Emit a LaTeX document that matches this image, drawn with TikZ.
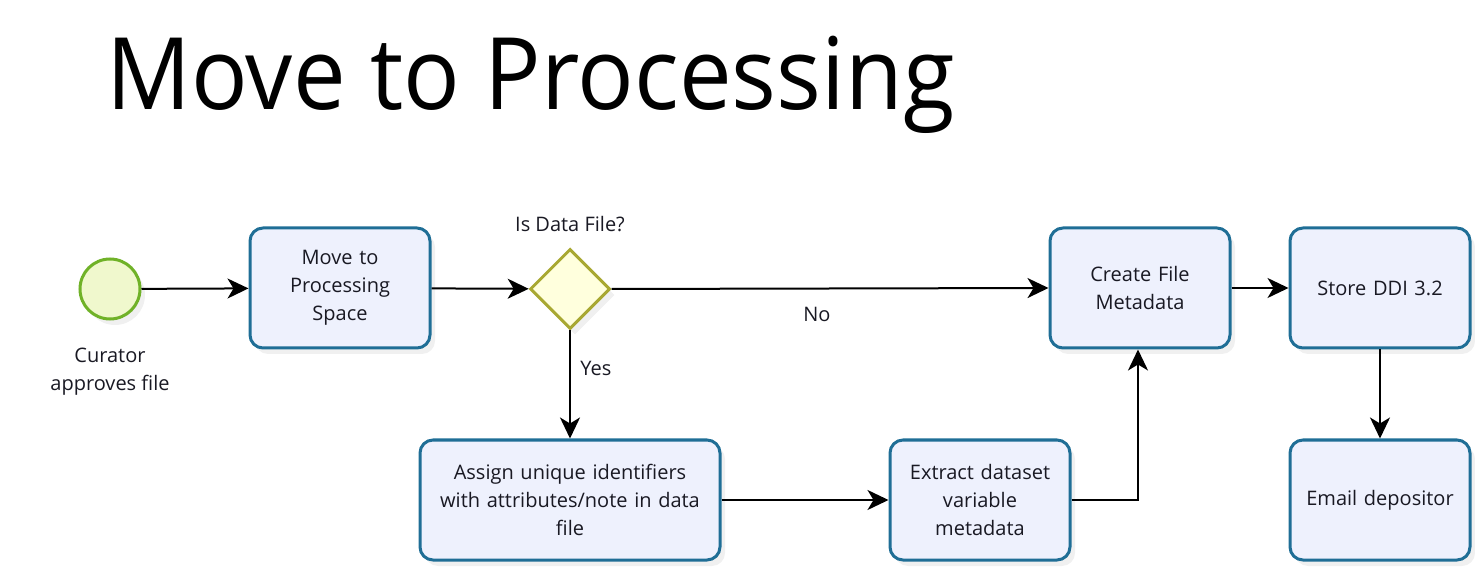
\documentclass[tikz,border=0pt]{standalone}
\usepackage{fontspec}
\setmainfont{Open Sans}
\usetikzlibrary{arrows.meta,shapes.geometric,positioning,shadows}
\definecolor{taskline}{RGB}{31,110,150}
\definecolor{taskfill}{RGB}{238,241,253}
\definecolor{startline}{RGB}{112,178,40}
\definecolor{startfill}{RGB}{240,248,205}
\definecolor{gateline}{RGB}{168,168,50}
\definecolor{gatefill}{RGB}{255,255,221}
\definecolor{labeltext}{RGB}{25,25,35}
\tikzset{
	boxfont/.style={font=\fontsize{20}{28}\selectfont,text=labeltext},
	activity/.style={draw=taskline,line width=3pt,fill=taskfill,rounded corners=13pt,
		minimum width=180pt,minimum height=120pt,text width=170pt,align=center,boxfont,
		drop shadow={shadow xshift=5pt,shadow yshift=-6pt,opacity=0.12}},
	startevent/.style={circle,draw=startline,line width=3pt,fill=startfill,minimum size=60pt,inner sep=0pt,
		drop shadow={shadow xshift=5pt,shadow yshift=-6pt,opacity=0.12}},
	gateway/.style={diamond,aspect=1,draw=gateline,line width=3pt,fill=gatefill,minimum size=80pt,inner sep=0pt,
		drop shadow={shadow xshift=5pt,shadow yshift=-6pt,opacity=0.12}},
	flow/.style={line width=2pt,-{Stealth[length=21pt,width=20pt,inset=6pt]}},
}
\begin{document}
\begin{tikzpicture}[x=1pt,y=1pt]
	\useasboundingbox (0,0) rectangle (1475,576);
	% title
	\node[anchor=base west,inner sep=0pt,xscale=0.94,font=\fontsize{100}{110}\selectfont] (title) at (106,466) {Move to Processing};
	% top row
	\node[startevent,label={[boxfont,align=center,label distance=24pt]below:Curator\\approves file}] (curator) at (110,287) {};
	\node[activity] (movespace) at (340,288) {Move to\\Processing\\Space};
	\node[gateway,label={[boxfont,label distance=12pt]above:Is Data File?}] (isdata) at (570,287) {};
	\node[activity] (createmeta) at (1140,288) {Create File\\Metadata};
	\node[activity] (storeddi) at (1380,288) {Store DDI 3.2};
	% bottom row
	\node[activity,minimum width=300pt,text width=290pt] (assignid) at (570,76) {Assign unique identifiers\\with attributes/note in data\\file};
	\node[activity] (extract) at (980,76) {Extract dataset\\variable\\metadata};
	\node[activity] (email) at (1380,76) {Email depositor};
	% flows
	\draw[flow] (curator) -- (movespace);
	\draw[flow] (movespace) -- (isdata);
	\draw[flow] (isdata.east) -- node[boxfont,pos=0.47,below=14pt] {No} (createmeta.west);
	\draw[flow] (isdata.south) -- node[boxfont,pos=0.35,right=6pt] {Yes} (assignid.north);
	\draw[flow] (assignid) -- (extract);
	\draw[flow] (extract.east) -| ([xshift=-2pt]createmeta.south);
	\draw[flow] (createmeta) -- (storeddi);
	\draw[flow] (storeddi) -- (email);
\end{tikzpicture}
\end{document}
